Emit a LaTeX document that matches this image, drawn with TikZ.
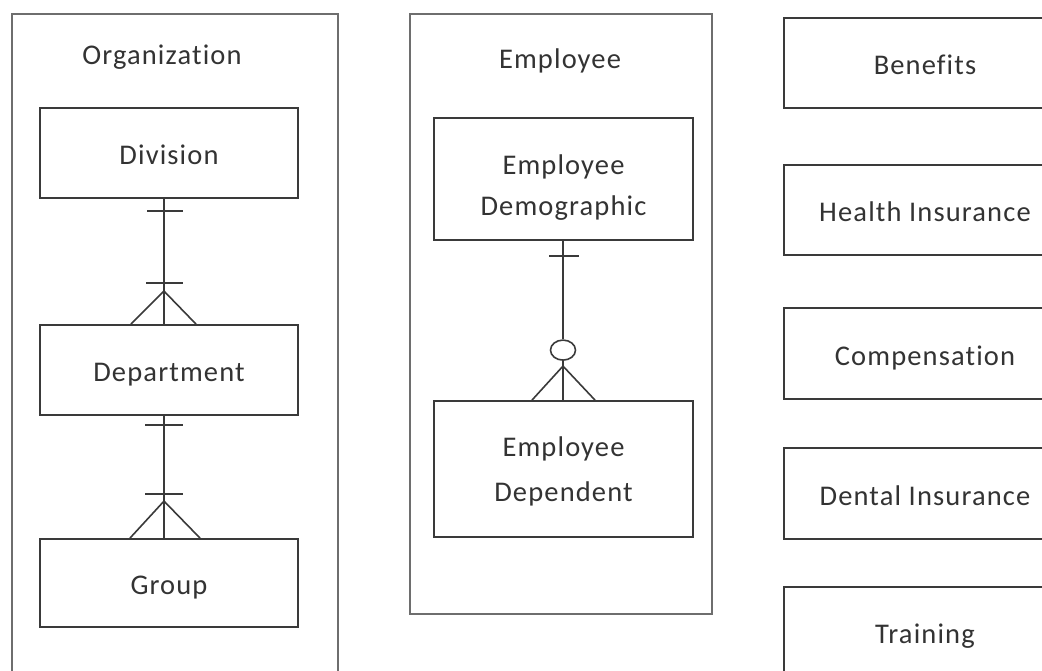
\documentclass[tikz,border=0pt]{standalone}
\usepackage{fontspec}
\setmainfont{Carlito}[LetterSpace=4,Ligatures=NoCommon]
\usetikzlibrary{calc,shapes.geometric}
\definecolor{boxc}{HTML}{3A3A3A}
\definecolor{outc}{HTML}{6E6E6E}
\definecolor{txt}{HTML}{333333}
\begin{document}
\begin{tikzpicture}[x=1pt,y=-1pt,
  entity/.style={draw=boxc,line width=1.8pt,rectangle,minimum width=258pt,minimum height=90pt,inner sep=0pt,align=center,text=txt,font=\fontsize{28.5}{41}\selectfont,text height=29.5pt,text depth=6pt},
  rentity/.style={entity,minimum width=282pt},
  etext/.style={inner sep=0pt,align=center,text=txt},
  title/.style={text=txt,font=\fontsize{28.5}{34}\selectfont,inner sep=0pt},
  container/.style={draw=outc,line width=2.6pt},
  rel/.style={draw=boxc,line width=1.6pt}]
\useasboundingbox (0,0) rectangle (1042,671);
\fill[white] (0,0) rectangle (1042,671);
\begin{scope}
\clip (0,0) rectangle (1042,671);
% containers
\draw[container] (12,14) rectangle (338,700);
\draw[container] (410,14) rectangle (712,614);
\node[title] (orgt) at (162,57) {Organization};
\node[title] (empt) at (560,61) {Employee};
% organization entities
\node[entity] (div) at (169,153) {Division};
\node[entity] (dep) at (169,370) {Department};
\node[entity,minimum height=88pt] (grp) at (169,583) {Group};
% employee entities
\node[entity,minimum width=259pt,minimum height=122pt] (demo) at (563.5,179) {};
\node[etext,font=\fontsize{28.5}{41}\selectfont] (demot) at ([yshift=-9pt]demo.center) {Employee\\Demographic};
\node[entity,minimum width=259pt,minimum height=136pt] (depd) at (563.5,469) {};
\node[etext,font=\fontsize{28.5}{45}\selectfont] (depdt) at ([yshift=-2pt]depd.center) {Employee\\Dependent};
% right column
\node[rentity] (ben) at (925,63) {Benefits};
\node[rentity] (hea) at (925,210) {Health Insurance};
\node[rentity,minimum height=91pt] (com) at (925,353.5) {Compensation};
\node[rentity,minimum height=91pt] (den) at (925,493.5) {Dental Insurance};
\node[rentity] (tra) at (925,632) {Training};
% Division -- Department (one to one-or-many)
\coordinate (a1) at ([xshift=-5pt]div.south);
\coordinate (a2) at ([xshift=-5pt]dep.north);
\draw[rel] (a1) -- (a2);
\draw[rel] ($(a1)+(-17,12)$) -- ($(a1)+(19,12)$);
\draw[rel] ($(a2)+(-18,-41)$) -- ($(a2)+(19,-41)$);
\draw[rel] ($(a2)+(-33,0)$) -- ($(a2)+(0,-33)$) -- ($(a2)+(32,0)$);
% Department -- Group
\coordinate (b1) at ([xshift=-5pt]dep.south);
\coordinate (b2) at ([xshift=-5pt]grp.north);
\draw[rel] (b1) -- (b2);
\draw[rel] ($(b1)+(-19,9)$) -- ($(b1)+(19,9)$);
\draw[rel] ($(b2)+(-19,-44)$) -- ($(b2)+(19,-44)$);
\draw[rel] ($(b2)+(-34,0)$) -- ($(b2)+(0,-37)$) -- ($(b2)+(36,0)$);
% Demographic -- Dependent (one to zero-or-many)
\coordinate (c1) at ([xshift=-0.5pt]demo.south);
\coordinate (c2) at ([xshift=-0.5pt]depd.north);
\node[draw=boxc,line width=1.6pt,ellipse,minimum width=25pt,minimum height=20pt,inner sep=0pt] (circ) at ($(c2)+(0,-50)$) {};
\draw[rel] (c1) -- (circ.north);
\draw[rel] (circ.south) -- (c2);
\draw[rel] ($(c1)+(-14,15)$) -- ($(c1)+(16,15)$);
\draw[rel] ($(c2)+(-31,0)$) -- ($(c2)+(0,-34)$) -- ($(c2)+(32,0)$);
\end{scope}
\end{tikzpicture}
\end{document}
